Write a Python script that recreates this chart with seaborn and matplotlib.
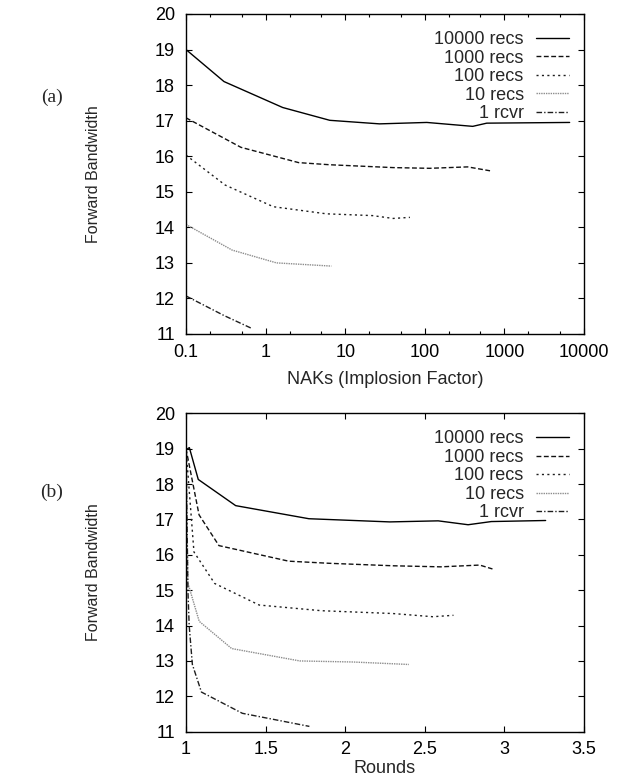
import matplotlib
matplotlib.use("Agg")
import matplotlib.pyplot as plt
import pandas as pd
import seaborn as sns

series_names = ["10000 recs", "1000 recs", "100 recs", "10 recs", "1 rcvr"]

# (a) forward bandwidth against NAK count (implosion factor)
naks_10000 = [0.1, 0.3, 1.64, 6.4, 27, 106, 400, 600, 6600]
bw_a_10000 = [19.0, 18.1, 17.37, 17.01, 16.91, 16.95, 16.84, 16.93, 16.95]
naks_1000 = [0.1, 0.49, 2.6, 6.4, 40, 115, 345, 660]
bw_a_1000 = [17.08, 16.25, 15.82, 15.76, 15.68, 15.66, 15.70, 15.59]
naks_100 = [0.1, 0.31, 1.25, 5.8, 22, 40, 65]
bw_a_100 = [16.03, 15.19, 14.58, 14.38, 14.33, 14.25, 14.28]
naks_10 = [0.1, 0.38, 1.37, 6.7]
bw_a_10 = [14.08, 13.36, 13.0, 12.91]
naks_1 = [0.1, 0.3, 0.68]
bw_a_1 = [12.07, 11.52, 11.15]

# (b) forward bandwidth against rounds
rounds_10000 = [1.0, 1.021, 1.077, 1.312, 1.772, 2.28, 2.584, 2.772, 2.918, 3.259]
bw_b_10000 = [18.97, 19.03, 18.13, 17.39, 17.02, 16.93, 16.96, 16.85, 16.94, 16.97]
rounds_1000 = [1.0, 1.082, 1.207, 1.645, 1.9, 2.3, 2.6, 2.845, 2.925]
bw_b_1000 = [19.0, 17.13, 16.26, 15.82, 15.76, 15.69, 15.66, 15.71, 15.60]
rounds_100 = [1.0, 1.05, 1.18, 1.46, 1.85, 2.3, 2.55, 2.68]
bw_b_100 = [19.0, 16.08, 15.19, 14.58, 14.42, 14.34, 14.25, 14.29]
rounds_10 = [1.0, 1.012, 1.083, 1.287, 1.715, 2.05, 2.40]
bw_b_10 = [19.0, 15.2, 14.12, 13.35, 13.0, 12.97, 12.9]
rounds_1 = [1.0, 1.012, 1.02, 1.04, 1.097, 1.354, 1.775]
bw_b_1 = [19.0, 15.0, 14.0, 12.9, 12.12, 11.52, 11.15]

naks_ticks = [0.1, 1, 10, 100, 1000, 10000]
naks_tick_labels = ["0.1", "1", "10", "100", "1000", "10000"]
naks_minor = [0.2, 0.5, 2, 5, 20, 50, 200, 500, 2000, 5000]
rounds_ticks = [1, 1.5, 2, 2.5, 3, 3.5]
rounds_tick_labels = ["1", "1.5", "2", "2.5", "3", "3.5"]
bw_ticks = list(range(11, 21))


def long_frame(xname, xs, ys):
    rows = []
    for name, xv, yv in zip(series_names, xs, ys):
        for a, b in zip(xv, yv):
            rows.append({"series": name, xname: a, "bw": b})
    return pd.DataFrame(rows)


df_a = long_frame("naks",
                  [naks_10000, naks_1000, naks_100, naks_10, naks_1],
                  [bw_a_10000, bw_a_1000, bw_a_100, bw_a_10, bw_a_1])
df_b = long_frame("rounds",
                  [rounds_10000, rounds_1000, rounds_100, rounds_10, rounds_1],
                  [bw_b_10000, bw_b_1000, bw_b_100, bw_b_10, bw_b_1])

sns.set_style("ticks")
plt.rcParams["font.family"] = ["Liberation Sans", "DejaVu Sans"]

palette = {"10000 recs": "#000000", "1000 recs": "#111111",
           "100 recs": "#1e1e1e", "10 recs": "#8c8c8c", "1 rcvr": "#1e1e1e"}
dash_map = {"10000 recs": "", "1000 recs": (3.5, 1.8), "100 recs": (1.5, 2.4),
            "10 recs": (1.0, 0.7), "1 rcvr": (4.0, 1.5, 1.0, 1.5)}

fig = plt.figure(figsize=(6.21, 7.8), dpi=100)
ax_a = fig.add_axes([186 / 621, 1 - 334 / 780, 398 / 621, 320 / 780])
ax_b = fig.add_axes([186 / 621, 1 - 731.7 / 780, 398 / 621, 318.4 / 780])

TICK_FS = 13


def draw(ax, df, xname):
    sns.lineplot(data=df, x=xname, y="bw", hue="series", style="series",
                 hue_order=series_names, style_order=series_names,
                 palette=palette, dashes=dash_map, estimator=None, sort=False,
                 linewidth=1.0, legend=False, ax=ax)
    handles = ax.get_lines()[:len(series_names)]
    ax.legend(handles, series_names, loc="upper right",
              bbox_to_anchor=(0.962, 0.946), frameon=False, markerfirst=False,
              handlelength=1.8, handletextpad=0.7, labelspacing=0.08,
              borderpad=0, borderaxespad=0, fontsize=TICK_FS)
    ax.set_ylim(11, 20)
    ax.set_yticks(bw_ticks)
    ax.set_yticklabels([str(t) for t in bw_ticks])
    ax.tick_params(which="both", direction="in", top=True, right=True,
                   width=0.8, colors="black", labelsize=TICK_FS)
    ax.tick_params(which="major", length=4)
    ax.tick_params(which="minor", length=2)
    ax.tick_params(axis="y", pad=8)
    ax.tick_params(axis="x", pad=7)
    for sp in ax.spines.values():
        sp.set_linewidth(1.0)
        sp.set_color("black")
    ax.set_ylabel("Forward Bandwidth", fontsize=11.5)
    ax.yaxis.set_label_coords(-0.214, 0.5)


# (a)
draw(ax_a, df_a, "naks")
ax_a.set_xscale("log")
ax_a.set_xlim(0.1, 10000)
ax_a.set_xticks(naks_ticks)
ax_a.set_xticklabels(naks_tick_labels)
ax_a.set_xticks(naks_minor, minor=True)
ax_a.set_xticklabels([], minor=True)
ax_a.set_xlabel("NAKs (Implosion Factor)", fontsize=TICK_FS)
ax_a.xaxis.set_label_coords(0.5, -0.115)

# (b)
draw(ax_b, df_b, "rounds")
ax_b.set_xlim(1, 3.5)
ax_b.set_xticks(rounds_ticks)
ax_b.set_xticklabels(rounds_tick_labels)
ax_b.set_xlabel("Rounds", fontsize=TICK_FS)
ax_b.xaxis.set_label_coords(0.5, -0.088)

fig.text(52 / 621, 1 - 97 / 780, "(a)", ha="center", va="center",
         fontsize=14, family=["Liberation Serif", "DejaVu Serif"])
fig.text(52 / 621, 1 - 492 / 780, "(b)", ha="center", va="center",
         fontsize=14, family=["Liberation Serif", "DejaVu Serif"])

fig.savefig("out.png", dpi=100)
